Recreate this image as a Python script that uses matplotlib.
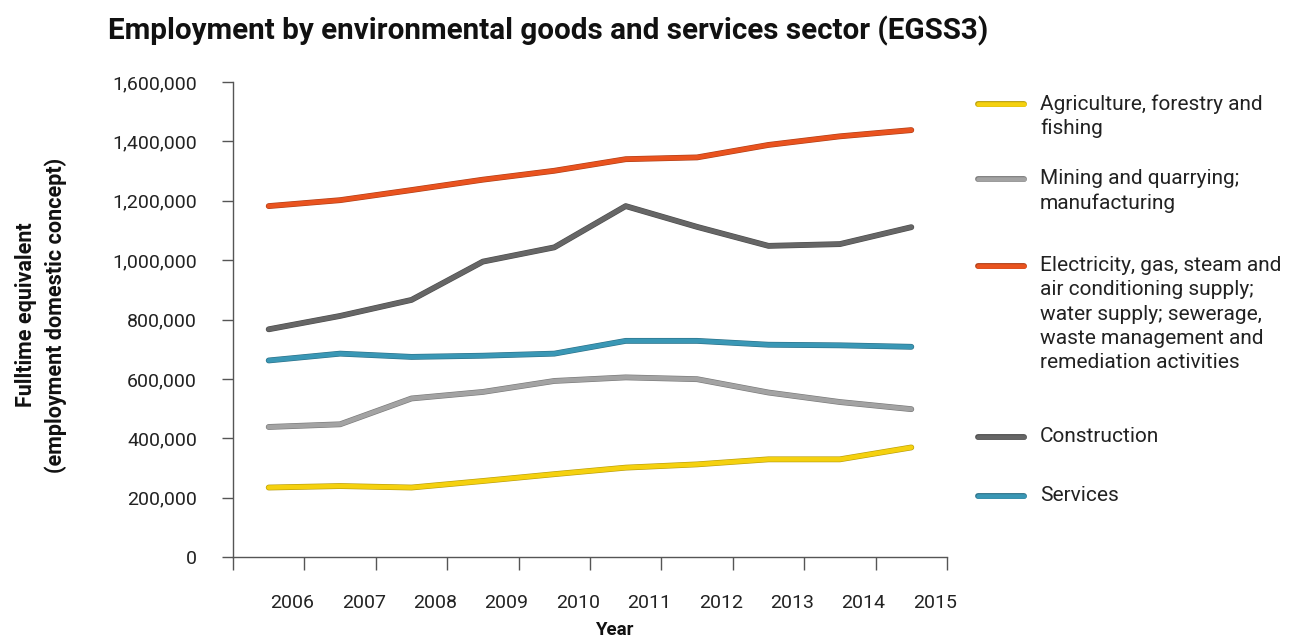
import numpy as np
import matplotlib.pyplot as plt
import matplotlib.patheffects as pe
from matplotlib.colors import to_rgb
from matplotlib.lines import Line2D
from matplotlib.ticker import FuncFormatter

plt.rcParams['font.family'] = ['Roboto', 'DejaVu Sans']

years = ['2006', '2007', '2008', '2009', '2010', '2011', '2012', '2013', '2014', '2015']

agriculture = [234000, 239000, 234000, 256000, 279000, 301000, 312000, 329000, 329000, 369000]
mining = [438000, 447000, 534000, 556000, 593000, 605000, 599000, 554000, 522000, 498000]
electricity = [1182000, 1202000, 1236000, 1271000, 1301000, 1340000, 1346000, 1388000, 1417000, 1438000]
construction = [767000, 812000, 866000, 995000, 1043000, 1182000, 1112000, 1048000, 1054000, 1111000]
services = [662000, 685000, 674000, 678000, 685000, 728000, 728000, 715000, 713000, 708000]

labels = [
    'Agriculture, forestry and\nfishing',
    'Mining and quarrying;\nmanufacturing',
    'Electricity, gas, steam and\nair conditioning supply;\nwater supply; sewerage,\nwaste management and\nremediation activities',
    'Construction',
    'Services',
]
colors = ['#F5D10F', '#A3A3A3', '#E9531F', '#666666', '#3A97B5']
series = [agriculture, mining, electricity, construction, services]


def outline(c):
    # thin darker edge round each line, as in the original
    dark = tuple(v * 0.75 for v in to_rgb(c))
    return [pe.Stroke(linewidth=4.2, foreground=dark), pe.Normal()]


fig = plt.figure(figsize=(12.91, 6.39), dpi=100)
ax = fig.add_axes([233 / 1291, 1 - 557 / 639, (947 - 233) / 1291, (557 - 82) / 639])

x = np.arange(len(years))
for vals, c in zip(series, colors):
    ax.plot(x, vals, color=c, lw=3.3, solid_capstyle='round', solid_joinstyle='round',
            path_effects=outline(c))

ax.set_xlim(-0.5, 9.5)
ax.set_ylim(0, 1600000)
ax.set_yticks(np.arange(0, 1600001, 200000))
ax.yaxis.set_major_formatter(FuncFormatter(lambda v, p: f'{int(v):,}'))
ax.set_xticks(np.arange(-0.5, 10, 1))
ax.set_xticklabels([])
ax.set_xticks(x + 0.33, minor=True)
ax.set_xticklabels(years, minor=True)
ax.tick_params(axis='x', which='major', length=9, color='#555555', width=1)
ax.tick_params(axis='x', which='minor', length=0, pad=27, labelsize=14, labelcolor='#222222')
ax.tick_params(axis='y', length=8, color='#555555', width=1, pad=18, labelsize=14, labelcolor='#222222')

for s in ['top', 'right']:
    ax.spines[s].set_visible(False)
for s in ['left', 'bottom']:
    ax.spines[s].set_color('#555555')
    ax.spines[s].set_linewidth(1)

fig.text(614 / 1291, 1 - 630 / 639, 'Year', ha='center', va='center', fontsize=13.5,
         fontweight='bold', color='#111111')
fig.text(41 / 1291, 1 - 315 / 639, 'Fulltime equivalent\n(employment domestic concept)',
         rotation=90, ha='center', va='center', fontsize=15.5, fontweight='bold',
         linespacing=1.45, color='#111111')

fig.text(108 / 1291, 1 - 31 / 639, 'Employment by environmental goods and services sector (EGSS3)',
         ha='left', va='center', fontsize=21.3, fontweight='bold', color='#111111')

# legend drawn by hand
leg_y = [104, 179, 266, 437, 496]
for lab, c, yy in zip(labels, colors, leg_y):
    yf = 1 - yy / 639
    fig.add_artist(Line2D([978 / 1291, 1024 / 1291], [yf, yf], color=c, lw=3.3,
                          solid_capstyle='round', transform=fig.transFigure,
                          path_effects=outline(c)))
    fig.text(1040 / 1291, 1 - (yy - 10) / 639, lab, ha='left', va='top', fontsize=15,
             color='#222222', linespacing=1.35)

fig.savefig('out.png', dpi=100)
